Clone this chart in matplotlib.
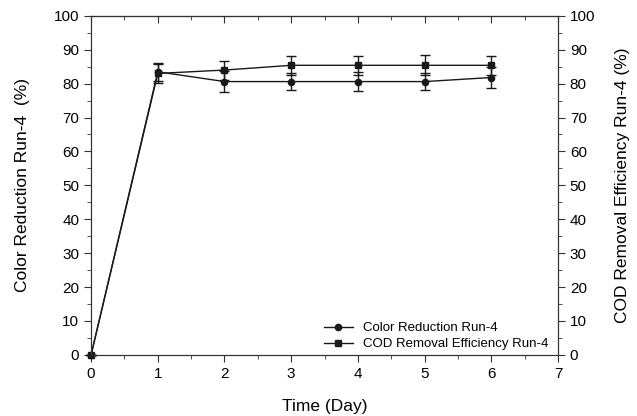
import matplotlib
matplotlib.use("Agg")
import matplotlib.pyplot as plt
from matplotlib.lines import Line2D
from matplotlib.ticker import MultipleLocator

# ── data ─────────────────────────────────────────────────────────────────────
days      = [0, 1, 2, 3, 4, 5, 6]
color_red = [0, 83.5, 80.6, 80.6, 80.6, 80.6, 81.8]
color_err = [0, 2.6, 3.2, 2.6, 2.9, 2.5, 3.0]
cod_rem   = [0, 83.0, 84.0, 85.4, 85.4, 85.4, 85.4]
cod_err   = [0, 2.8, 2.8, 2.8, 2.8, 3.0, 2.8]

plt.rcParams.update({
    "font.family": ["Liberation Sans", "DejaVu Sans"],
    "font.size": 11,
    "axes.labelsize": 12.5,
})

INK = "#1a1a1a"
fig = plt.figure(figsize=(6.37, 4.16), dpi=100)
ax = fig.add_axes([0.143, 0.147, 0.733, 0.815])

for y, e, m in ((color_red, color_err, "o"), (cod_rem, cod_err, "s")):
    ax.errorbar(days, y, yerr=e, color=INK, marker=m, ms=4.5, lw=1.0,
                elinewidth=1.0, capsize=3.5, capthick=1.0, clip_on=False,
                zorder=3)

ax.set_xlim(0, 7)
ax.set_ylim(0, 100)
ax.xaxis.set_major_locator(MultipleLocator(1))
ax.xaxis.set_minor_locator(MultipleLocator(0.5))
ax.yaxis.set_major_locator(MultipleLocator(10))
ax.yaxis.set_minor_locator(MultipleLocator(5))
ax.tick_params(which="both", direction="out", top=False, color="#333333")
ax.tick_params(which="major", length=5)
ax.tick_params(which="minor", length=3)
ax.set_xlabel("Time (Day)", labelpad=13)
ax.set_ylabel("Color Reduction Run-4  (%)", labelpad=17)

# top ticks pointing inward
sec = ax.secondary_xaxis("top")
sec.xaxis.set_major_locator(MultipleLocator(1))
sec.xaxis.set_minor_locator(MultipleLocator(0.5))
sec.tick_params(which="both", direction="in", labeltop=False, color="#333333")
sec.tick_params(which="major", length=5)
sec.tick_params(which="minor", length=3)

ax2 = ax.twinx()
ax2.set_ylim(0, 100)
ax2.yaxis.set_major_locator(MultipleLocator(10))
ax2.yaxis.set_minor_locator(MultipleLocator(5))
ax2.tick_params(which="both", direction="out", color="#333333")
ax2.tick_params(which="major", length=5)
ax2.tick_params(which="minor", length=3)
ax2.set_ylabel("COD Removal Efficiency Run-4 (%)", labelpad=14)

for a in (ax, ax2):
    for s in a.spines.values():
        s.set_color("#333333")

handles = [Line2D([], [], color=INK, marker="o", ms=4.5, lw=1.0),
           Line2D([], [], color=INK, marker="s", ms=4.5, lw=1.0)]
ax.legend(handles, ["Color Reduction Run-4", "COD Removal Efficiency Run-4"],
          loc="lower right", frameon=False, fontsize=9.5, handlelength=2.2,
          borderaxespad=0.3, labelspacing=0.3, bbox_to_anchor=(1.0, -0.014))

fig.savefig("out.png", dpi=100)
